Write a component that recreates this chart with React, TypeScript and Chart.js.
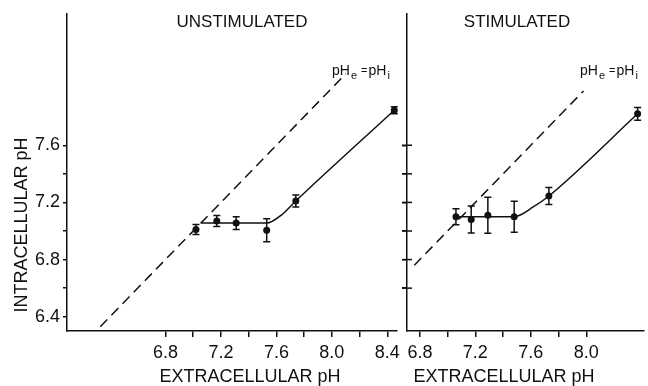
import React, { useEffect, useRef } from 'react';
import { Chart, registerables } from 'chart.js';
Chart.register(...registerables);

// ---------- data ----------
const unstimX = [7.02, 7.17, 7.31, 7.53, 7.74, 8.45];
const unstimY = [7.01, 7.07, 7.055, 7.005, 7.21, 7.845];
const unstimErr = [0.035, 0.038, 0.045, 0.08, 0.042, 0.025];
const unstimFitX = [7.06, 7.53, 7.64, 7.74, 8.45];
const unstimFitY = [7.055, 7.055, 7.115, 7.21, 7.845];
const unstimIdentity = [6.33, 8.1];

const stimX = [7.06, 7.17, 7.29, 7.48, 7.73, 8.37];
const stimY = [7.10, 7.08, 7.11, 7.10, 7.245, 7.82];
const stimErr = [0.056, 0.094, 0.126, 0.108, 0.06, 0.045];
const stimFitX = [7.08, 7.48, 7.62, 7.73, 8.37];
const stimFitY = [7.10, 7.10, 7.17, 7.245, 7.82];
const stimIdentity = [6.76, 7.98];

const yTickValues = [6.4, 6.6, 6.8, 7.0, 7.2, 7.4, 7.6];
const yTickLabels = ['6.4', '', '6.8', '', '7.2', '', '7.6'];
const yTickValuesRight = [6.6, 6.8, 7.0, 7.2, 7.4, 7.6];
const xTickValuesLeft = [6.8, 7.0, 7.2, 7.4, 7.6, 7.8, 8.0, 8.2, 8.4];
const xTickLabelsLeft = ['6.8', '', '7.2', '', '7.6', '', '8.0', '', '8.4'];
const xTickValuesRight = [6.8, 7.0, 7.2, 7.4, 7.6, 7.8, 8.0];
const xTickLabelsRight = ['6.8', '', '7.2', '', '7.6', '', '8.0'];

const FONT = '"Liberation Sans", Arial, Helvetica, sans-serif';
const INK = '#111';

function drawPhLabel(ctx: CanvasRenderingContext2D, x: number, y: number) {
  const parts: [string, number, number][] = [
    ['pH', 14, 0], ['e', 11, 4], [' =', 11, -1], ['pH', 14, 0], ['i', 11, 4],
  ];
  let cx = x;
  ctx.textAlign = 'left';
  ctx.textBaseline = 'alphabetic';
  for (const [t, size, dy] of parts) {
    ctx.font = `${size}px ${FONT}`;
    ctx.fillText(t, cx, y + dy);
    cx += ctx.measureText(t).width + 1;
  }
}

interface PanelCfg {
  px: number[]; py: number[]; perr: number[];
  fx: number[]; fy: number[]; ident: number[];
  xmin: number; xmax: number;
  xTicks: number[]; xLabels: string[];
  yTicks: number[]; yLabels: string[] | null;
  title: string; titleX: number;
  xTitleX: number; phX: number;
  left: boolean;
}

function makeChart(canvas: HTMLCanvasElement, c: PanelCfg) {
  const textPlugin = {
    id: 'panelText',
    afterDraw(chart: any) {
      const ctx = chart.ctx as CanvasRenderingContext2D;
      ctx.save();
      ctx.fillStyle = INK;
      ctx.font = `17px ${FONT}`;
      ctx.textAlign = 'center';
      ctx.textBaseline = 'middle';
      ctx.fillText(c.title, c.titleX, 22);
      ctx.font = `18px ${FONT}`;
      ctx.fillText('EXTRACELLULAR pH', c.xTitleX, 377);
      if (c.left) {
        ctx.save();
        ctx.translate(22, 225);
        ctx.rotate(-Math.PI / 2);
        ctx.fillText('INTRACELLULAR pH', 0, 0);
        ctx.restore();
      }
      drawPhLabel(ctx, c.phX, 75);
      // crossing y ticks on the shared axis
      if (!c.left) {
        const ys = chart.scales.y;
        const x0 = chart.chartArea.left;
        ctx.strokeStyle = INK;
        ctx.lineWidth = 1.5;
        for (const v of c.yTicks) {
          const yy = ys.getPixelForValue(v);
          ctx.beginPath();
          ctx.moveTo(x0 - 5, yy);
          ctx.lineTo(x0 + 5, yy);
          ctx.stroke();
        }
      }
      ctx.restore();
    },
  };
  const errPlugin = {
    id: 'errBars',
    afterDatasetsDraw(chart: any) {
      const ctx = chart.ctx as CanvasRenderingContext2D;
      const xs = chart.scales.x;
      const ys = chart.scales.y;
      ctx.save();
      ctx.strokeStyle = INK;
      ctx.lineWidth = 1.5;
      for (let i = 0; i < c.px.length; i++) {
        const x = xs.getPixelForValue(c.px[i]);
        const y1 = ys.getPixelForValue(c.py[i] - c.perr[i]);
        const y2 = ys.getPixelForValue(c.py[i] + c.perr[i]);
        ctx.beginPath();
        ctx.moveTo(x, y1); ctx.lineTo(x, y2);
        ctx.moveTo(x - 3.5, y1); ctx.lineTo(x + 3.5, y1);
        ctx.moveTo(x - 3.5, y2); ctx.lineTo(x + 3.5, y2);
        ctx.stroke();
      }
      ctx.restore();
    },
  };

  return new Chart(canvas, {
    type: 'scatter',
    data: {
      datasets: [
        {
          data: c.ident.map((v) => ({ x: v, y: v })),
          showLine: true, borderColor: INK, borderWidth: 1.5, borderDash: [10, 6],
          pointRadius: 0, clip: false,
        } as any,
        {
          data: c.fx.map((v, i) => ({ x: v, y: c.fy[i] })),
          showLine: true, borderColor: INK, borderWidth: 1.5,
          cubicInterpolationMode: 'monotone', pointRadius: 0, clip: false,
        } as any,
        {
          data: c.px.map((v, i) => ({ x: v, y: c.py[i] })),
          pointRadius: 3.5, backgroundColor: INK, borderColor: INK, borderWidth: 0,
          clip: false,
        } as any,
      ],
    },
    options: {
      responsive: false,
      animation: false,
      devicePixelRatio: 1,
      layout: { padding: { left: 0, right: c.left ? 5 : 0, top: 13, bottom: 0 } },
      plugins: { legend: { display: false }, tooltip: { enabled: false }, title: { display: false } },
      scales: {
        x: {
          type: 'linear', min: c.xmin, max: c.xmax,
          afterBuildTicks: (s: any) => { s.ticks = c.xTicks.map((v) => ({ value: v })); },
          afterFit: (s: any) => { s.height = 55; },
          ticks: {
            autoSkip: false, maxRotation: 0, padding: 5, color: INK,
            font: { family: FONT, size: 18 },
            callback: (_v: any, i: number) => c.xLabels[i],
          },
          grid: { display: true, drawOnChartArea: false, drawTicks: true, tickLength: 6, color: INK, lineWidth: 1.5 },
          border: { display: true, color: INK, width: 1.5 },
        },
        y: {
          type: 'linear', min: 6.3, max: 8.52, position: 'left',
          afterBuildTicks: (s: any) => { s.ticks = c.yTicks.map((v) => ({ value: v })); },
          afterFit: (s: any) => { s.width = 67; },
          ticks: {
            autoSkip: false, padding: 3, color: INK,
            font: { family: FONT, size: 18 },
            callback: (_v: any, i: number) => (c.yLabels ? c.yLabels[i] : ''),
          },
          grid: { display: true, drawOnChartArea: false, drawTicks: true, tickLength: c.left ? 4 : 5, color: INK, lineWidth: 1.5 },
          border: { display: true, color: INK, width: 1.5 },
        },
      },
    } as any,
    plugins: [errPlugin, textPlugin],
  });
}

export default function App() {
  const leftRef = useRef<HTMLCanvasElement>(null);
  const rightRef = useRef<HTMLCanvasElement>(null);

  useEffect(() => {
    const a = makeChart(leftRef.current!, {
      px: unstimX, py: unstimY, perr: unstimErr,
      fx: unstimFitX, fy: unstimFitY, ident: unstimIdentity,
      xmin: 6.09, xmax: 8.47,
      xTicks: xTickValuesLeft, xLabels: xTickLabelsLeft,
      yTicks: yTickValues, yLabels: yTickLabels,
      title: 'UNSTIMULATED', titleX: 242, xTitleX: 250, phX: 332, left: true,
    });
    const b = makeChart(rightRef.current!, {
      px: stimX, py: stimY, perr: stimErr,
      fx: stimFitX, fy: stimFitY, ident: stimIdentity,
      xmin: 6.707, xmax: 8.416,
      xTicks: xTickValuesRight, xLabels: xTickLabelsRight,
      yTicks: yTickValuesRight, yLabels: null,
      title: 'STIMULATED', titleX: 177, xTitleX: 164, phX: 240, left: false,
    });
    return () => { a.destroy(); b.destroy(); };
  }, []);

  return (
    <div style={{ position: 'fixed', left: 0, top: 0, width: 648, height: 386, background: '#fff' }}>
      <canvas ref={leftRef} width={405} height={386} style={{ position: 'absolute', left: 0, top: 0 }} />
      <canvas ref={rightRef} width={308} height={386} style={{ position: 'absolute', left: 340, top: 0 }} />
    </div>
  );
}
